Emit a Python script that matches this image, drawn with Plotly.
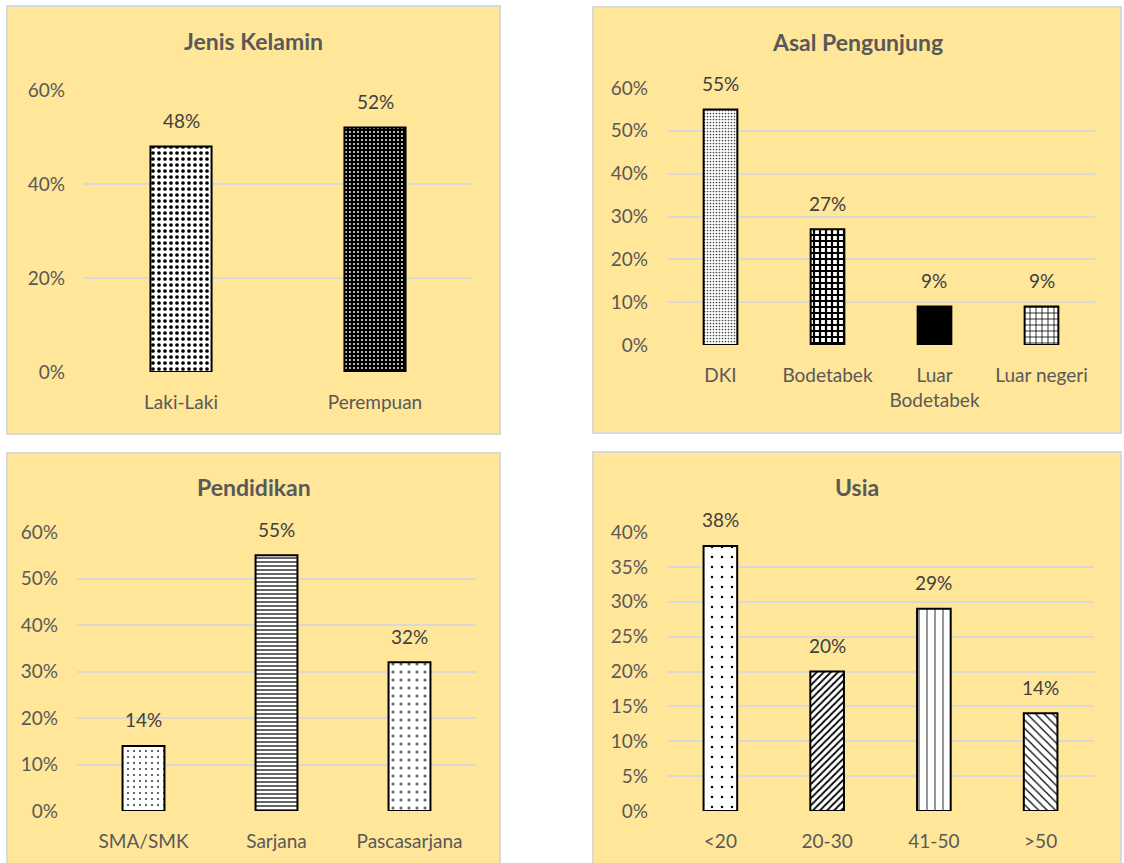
import plotly.graph_objects as go

# ---- data ----
gender_cats = ["Laki-Laki", "Perempuan"]
gender_vals = [0.48, 0.52]

origin_cats = ["DKI", "Bodetabek", "Luar<br>Bodetabek", "Luar negeri"]
origin_vals = [0.55, 0.27, 0.09, 0.09]

edu_cats = ["SMA/SMK", "Sarjana", "Pascasarjana"]
edu_vals = [0.14, 0.55, 0.32]

age_cats = ["<20", "20-30", "41-50", ">50"]
age_vals = [0.38, 0.20, 0.29, 0.14]

titles = ["Jenis Kelamin", "Asal Pengunjung", "Pendidikan", "Usia"]

# ---- page geometry (pixels) ----
W, H = 1124, 863
FONT = "Lato"
PANEL_BG = "#FFE699"
GRID = "#D9D9D9"
TXT = "#595959"


def px(x):
    return x / W


def py(y):
    return 1 - y / H


# fill pattern of every bar, per chart
gender_patterns = [
    dict(shape=".", size=6, solidity=0.3, fgcolor="black", bgcolor="white"),
    dict(shape=".", size=4, solidity=0.18, fgcolor="white", bgcolor="black"),
]
origin_patterns = [
    dict(shape=".", size=3, solidity=0.25, fgcolor="#444444", bgcolor="white"),
    dict(shape="+", size=6, solidity=0.6, fgcolor="black", bgcolor="white"),
    dict(shape="", fgcolor="black", bgcolor="black"),
    dict(shape="+", size=6, solidity=0.25, fgcolor="black", bgcolor="white"),
]
edu_patterns = [
    dict(shape=".", size=6, solidity=0.1, fgcolor="#444444", bgcolor="white"),
    dict(shape="-", size=4, solidity=0.45, fgcolor="#555555", bgcolor="white"),
    dict(shape=".", size=8, solidity=0.12, fgcolor="#666666", bgcolor="white"),
]
age_patterns = [
    dict(shape=".", size=10, solidity=0.05, fgcolor="black", bgcolor="white"),
    dict(shape="/", size=5, solidity=0.35, fgcolor="black", bgcolor="white"),
    dict(shape="|", size=8, solidity=0.12, fgcolor="#222222", bgcolor="white"),
    dict(shape="\\", size=6, solidity=0.2, fgcolor="black", bgcolor="white"),
]

panels = [
    # cats, vals, patterns, panel box, plot box, y max, y step, title y
    (gender_cats, gender_vals, gender_patterns, (7, 6, 500, 434), (84, 90, 472, 372), 0.6, 0.2, 42),
    (origin_cats, origin_vals, origin_patterns, (593, 7, 1121, 433), (667, 88, 1095, 345), 0.6, 0.1, 43),
    (edu_cats, edu_vals, edu_patterns, (7, 453, 500, 866), (77, 532, 476, 811), 0.6, 0.1, 488),
    (age_cats, age_vals, age_patterns, (593, 452, 1121, 866), (667, 532, 1094, 811), 0.4, 0.05, 488),
]

fig = go.Figure()
shapes = []
annotations = []

for i, (cats, vals, pats, box, plot, ymax, dy, ty) in enumerate(panels):
    n = "" if i == 0 else str(i + 1)
    xa, ya = "x" + n, "y" + n

    # one trace per bar so each bar carries its own fill pattern
    for c, v, p in zip(cats, vals, pats):
        pattern = dict(shape=p["shape"], fgcolor=p["fgcolor"], bgcolor=p["bgcolor"],
                       fillmode="replace")
        if p["shape"]:
            pattern.update(size=p["size"], solidity=p["solidity"])
        fig.add_trace(go.Bar(
            x=[c], y=[v], xaxis=xa, yaxis=ya,
            marker=dict(color=p["bgcolor"], pattern=pattern,
                        line=dict(color="black", width=2)),
            showlegend=False, hoverinfo="x+y",
        ))

    x0, y0, x1, y1 = plot
    fig.layout["xaxis" + n] = dict(
        domain=[px(x0), px(x1)], anchor=ya, showgrid=False, showline=False,
        zeroline=False, ticks="", tickfont=dict(family=FONT, size=19, color=TXT),
        ticklabelstandoff=17, fixedrange=True, automargin=False,
        categoryorder="array", categoryarray=cats,
    )
    fig.layout["yaxis" + n] = dict(
        domain=[py(y1), py(y0)], anchor=xa, range=[0, ymax], dtick=dy,
        tickformat=".0%", showgrid=True, gridcolor=GRID, gridwidth=1.5,
        zeroline=False, showline=False, ticks="",
        tickfont=dict(family=FONT, size=19, color=TXT),
        ticklabelstandoff=18, fixedrange=True, automargin=False,
    )

    # panel background
    bx0, by0, bx1, by1 = box
    shapes.append(dict(
        type="rect", xref="paper", yref="paper", layer="below",
        x0=px(bx0), x1=px(bx1), y0=py(by1), y1=py(by0),
        fillcolor=PANEL_BG, line=dict(color=GRID, width=2),
    ))

    # panel title
    annotations.append(dict(
        text="<b>" + titles[i] + "</b>", xref="paper", yref="paper",
        x=px((bx0 + bx1) / 2), y=py(ty - 1), xanchor="center", yanchor="middle",
        showarrow=False, font=dict(family=FONT, size=23, color=TXT),
    ))

    # value labels above the bars
    for c, v in zip(cats, vals):
        annotations.append(dict(
            text=f"{round(v * 100)}%", xref=xa, yref=ya, x=c, y=v,
            xanchor="center", yanchor="middle", yshift=26, showarrow=False,
            font=dict(family=FONT, size=19, color="#404040"),
        ))

fig.update_layout(
    width=W, height=H, margin=dict(l=0, r=0, t=0, b=0),
    paper_bgcolor="white", plot_bgcolor="rgba(0,0,0,0)",
    barmode="overlay", bargap=0.685, shapes=shapes, annotations=annotations,
)

fig.write_html("out.html")
